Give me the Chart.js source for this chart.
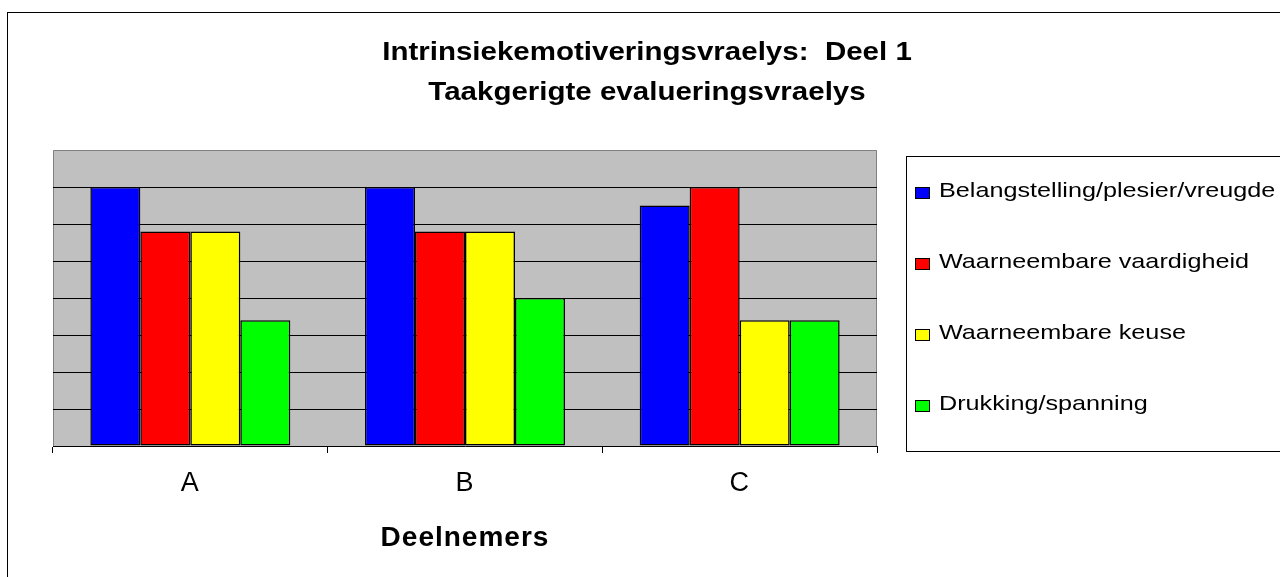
<!DOCTYPE html>
<html>
<head>
<meta charset="utf-8">
<script src="https://cdn.jsdelivr.net/npm/chart.js@4.4.1/dist/chart.umd.min.js"></script>
<style>
  body { margin: 0; background: #fff; overflow: hidden; }
  canvas { display: block; }
</style>
</head>
<body>
<canvas id="motiveringChart" width="1280" height="577"></canvas>
<script>
// Données du graphique
const deelnemers = ['A', 'B', 'C'];
const reeksNames = ['Belangstelling/plesier/vreugde', 'Waarneembare vaardigheid', 'Waarneembare keuse', 'Drukking/spanning'];
const belangstelling = [7, 7, 6.5];
const vaardigheid = [5.8, 5.8, 7];
const keuse = [5.8, 5.8, 3.4];
const drukking = [3.4, 4, 3.4];
const reeksColors = ['#0000FF', '#FF0000', '#FFFF00', '#00FF00'];
const titleLines = ['Intrinsiekemotiveringsvraelys:  Deel 1', 'Taakgerigte evalueringsvraelys'];
const xTitle = 'Deelnemers';
const yMax = 8;

const FONT = "'Liberation Sans', Arial, sans-serif";

// Plugin maison : cadre, fond gris, titre et légende encadrée
const decorPlugin = {
    id: 'decor',
    beforeDraw(chart) {
        const ctx = chart.ctx;
        const a = chart.chartArea;
        ctx.save();
        // cadre extérieur (coupé à droite et en bas comme l'original)
        ctx.strokeStyle = '#000';
        ctx.lineWidth = 1;
        ctx.strokeRect(7.5, 12.5, chart.width + 20, chart.height + 20);
        // fond de la zone de tracé
        ctx.fillStyle = '#C0C0C0';
        ctx.fillRect(a.left, a.top, a.right - a.left, a.bottom - a.top);
        ctx.strokeStyle = '#808080';
        ctx.beginPath();
        ctx.moveTo(a.left + 0.5, a.bottom);
        ctx.lineTo(a.left + 0.5, a.top + 0.5);
        ctx.lineTo(a.right - 0.5, a.top + 0.5);
        ctx.lineTo(a.right - 0.5, a.bottom);
        ctx.stroke();
        ctx.restore();
        // le texte de l'original est un peu étiré
        ctx.letterSpacing = '1px';
    },
    afterDraw(chart) {
        const ctx = chart.ctx;
        ctx.save();
        ctx.letterSpacing = '0px';
        // titre sur deux lignes, étiré horizontalement
        ctx.font = 'bold 25px ' + FONT;
        ctx.fillStyle = '#000';
        ctx.textAlign = 'center';
        ctx.textBaseline = 'alphabetic';
        ctx.save();
        ctx.translate(647, 0);
        ctx.scale(1.18, 1);
        titleLines.forEach((t, i) => ctx.fillText(t, 0, 60 + i * 40));
        ctx.restore();

        // légende
        ctx.strokeStyle = '#000';
        ctx.lineWidth = 1;
        ctx.strokeRect(906.5, 156.5, 420, 295);
        ctx.font = '21px ' + FONT;
        ctx.textAlign = 'left';
        chart.data.datasets.forEach((ds, i) => {
            const y = 197 + i * 71;
            ctx.fillStyle = ds.backgroundColor;
            ctx.fillRect(915.5, y - 9.5, 14, 11);
            ctx.strokeRect(915.5, y - 9.5, 14, 11);
            ctx.fillStyle = '#000';
            ctx.save();
            ctx.translate(939, y);
            ctx.scale(1.2, 1);
            ctx.fillText(ds.label, 0, 0);
            ctx.restore();
        });
        ctx.restore();
    }
};

const series = [belangstelling, vaardigheid, keuse, drukking];

new Chart(document.getElementById('motiveringChart').getContext('2d'), {
    type: 'bar',
    data: {
        labels: deelnemers,
        datasets: series.map((values, i) => ({
            label: reeksNames[i],
            data: values,
            backgroundColor: reeksColors[i],
            borderColor: '#000',
            borderWidth: 1.5,
            borderSkipped: false
        }))
    },
    options: {
        responsive: false,
        animation: false,
        layout: { padding: { left: 53, right: 403, top: 150, bottom: 22 } },
        datasets: { bar: { categoryPercentage: 0.728, barPercentage: 1 } },
        plugins: {
            legend: { display: false },
            title: { display: false },
            tooltip: { enabled: false }
        },
        scales: {
            x: {
                grid: { offset: true, drawOnChartArea: false, drawTicks: true, tickLength: 7, color: '#000' },
                border: { color: '#000', width: 1 },
                ticks: { color: '#000', font: { family: FONT, size: 27 }, padding: 14 },
                title: {
                    display: true,
                    text: xTitle,
                    color: '#000',
                    font: { family: FONT, size: 28, weight: 'bold' },
                    padding: { top: 8, bottom: 0 }
                }
            },
            y: {
                min: 0,
                max: yMax,
                ticks: { display: false, stepSize: 1 },
                grid: {
                    drawTicks: false,
                    color: c => (c.tick.value > 0 && c.tick.value < yMax) ? '#000' : 'rgba(0,0,0,0)'
                },
                border: { display: false }
            }
        }
    },
    plugins: [decorPlugin]
});
</script>
</body>
</html>
